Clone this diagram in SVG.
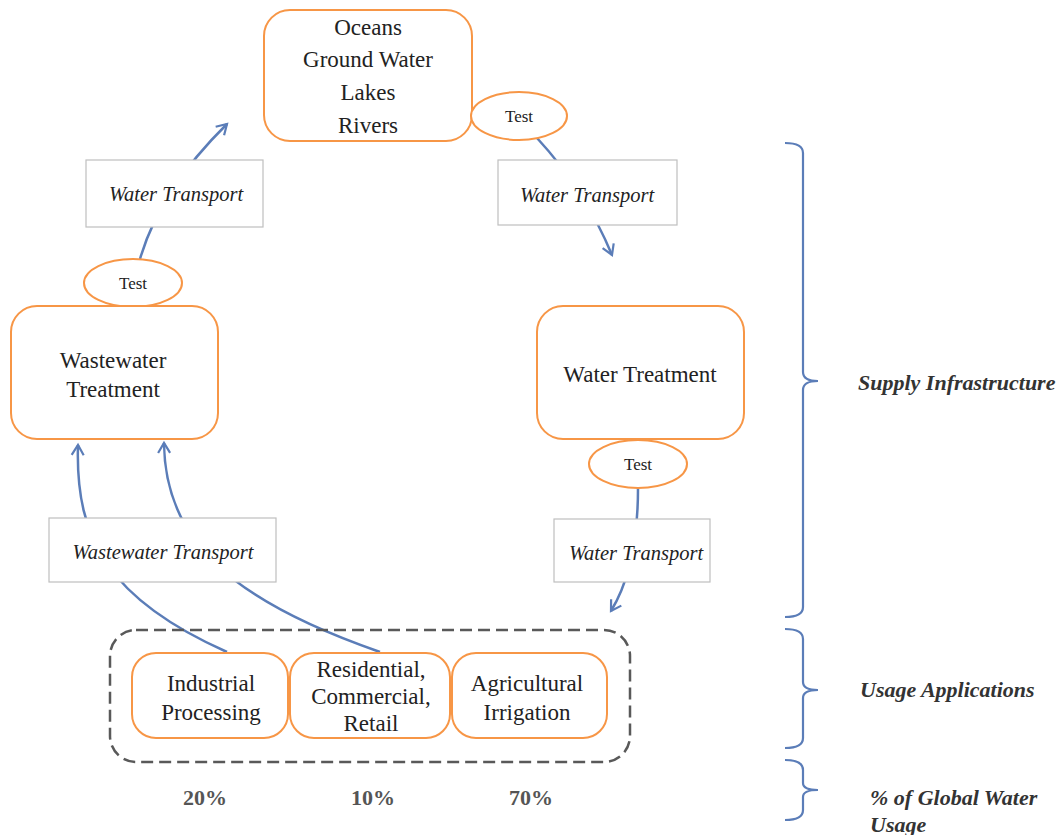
<svg xmlns="http://www.w3.org/2000/svg" width="1061" height="835" viewBox="0 0 1061 835">
<defs>
<style>
text{font-family:'Liberation Serif','DejaVu Serif',serif}
.node{fill:#fff;stroke:#F79646;stroke-width:2}
.tbox{fill:#fff;stroke:#BFBFBF;stroke-width:1.2}
.t{font-size:23px;fill:#222;text-anchor:middle}
.ts{font-size:17px;fill:#222;text-anchor:middle}
.ti{font-size:20.5px;font-style:italic;fill:#222;text-anchor:middle}
.lab{font-size:22px;font-style:italic;font-weight:bold;fill:#333}
.pct{font-size:22px;font-weight:bold;fill:#555;text-anchor:middle}
.conn{fill:none;stroke:#5B7DB8;stroke-width:2.5}
.brace{fill:none;stroke:#5B7DB8;stroke-width:2.2}
</style>
<marker id="arr" markerWidth="16" markerHeight="16" refX="0" refY="0" viewBox="-12 -8 14 16" orient="auto" markerUnits="userSpaceOnUse">
<path d="M-10,-6 L0,0 L-10,6" fill="none" stroke="#5B7DB8" stroke-width="2.2"/>
</marker>
</defs>
<rect width="1061" height="835" fill="#fff"/>

<g id="connectors">
<path class="conn" d="M537,138 Q585,190 612,255" marker-end="url(#arr)"/>
<path class="conn" d="M140,259 Q160,190 227,124" marker-end="url(#arr)"/>
<path class="conn" d="M638,488 C638,540 630,580 611,611" marker-end="url(#arr)"/>
<path class="conn" d="M227,652 C110,600 75,540 78,445" marker-end="url(#arr)"/>
<path class="conn" d="M380,652 C230,600 165,540 164,443" marker-end="url(#arr)"/>
</g>

<g id="sources">
<rect class="node" x="264" y="10" width="208" height="131" rx="26"/>
<text class="t" x="368" y="35">Oceans</text>
<text class="t" x="368" y="67">Ground Water</text>
<text class="t" x="368" y="100">Lakes</text>
<text class="t" x="368" y="133">Rivers</text>
</g>
<g id="test-top">
<ellipse class="node" cx="519" cy="116" rx="48" ry="24"/>
<text class="ts" x="519" y="122">Test</text>
</g>
<g id="transport-right-top">
<rect class="tbox" x="498" y="160" width="179" height="65"/>
<text class="ti" x="587" y="202">Water Transport</text>
</g>
<g id="transport-left-top">
<rect class="tbox" x="86" y="160" width="177" height="67"/>
<text class="ti" x="176" y="201">Water Transport</text>
</g>
<g id="test-left">
<ellipse class="node" cx="133" cy="283" rx="49" ry="24"/>
<text class="ts" x="133" y="289">Test</text>
</g>
<g id="wastewater-treatment">
<rect class="node" x="11" y="306" width="207" height="133" rx="26"/>
<text class="t" x="113" y="368">Wastewater</text>
<text class="t" x="113" y="397">Treatment</text>
</g>
<g id="water-treatment">
<rect class="node" x="537" y="306" width="207" height="133" rx="26"/>
<text class="t" x="640" y="382">Water Treatment</text>
</g>
<g id="test-right">
<ellipse class="node" cx="638" cy="464" rx="49" ry="24"/>
<text class="ts" x="638" y="470">Test</text>
</g>
<g id="transport-right-bottom">
<rect class="tbox" x="554" y="519" width="156" height="63"/>
<text class="ti" x="636" y="560">Water Transport</text>
</g>
<g id="wastewater-transport">
<rect class="tbox" x="49" y="518" width="227" height="64"/>
<text class="ti" x="163" y="559">Wastewater Transport</text>
</g>

<g id="usage-group">
<rect x="110" y="630" width="520" height="132" rx="26" fill="none" stroke="#595959" stroke-width="2.5" stroke-dasharray="12,6"/>
</g>
<g id="industrial">
<rect class="node" x="132" y="653" width="156" height="85" rx="24"/>
<text class="t" x="211" y="691">Industrial</text>
<text class="t" x="211" y="720">Processing</text>
</g>
<g id="residential">
<rect class="node" x="290" y="653" width="160" height="85" rx="24"/>
<text class="t" x="371" y="677">Residential,</text>
<text class="t" x="371" y="704">Commercial,</text>
<text class="t" x="371" y="731">Retail</text>
</g>
<g id="agricultural">
<rect class="node" x="452" y="653" width="155" height="85" rx="24"/>
<text class="t" x="527" y="691">Agricultural</text>
<text class="t" x="527" y="720">Irrigation</text>
</g>

<g id="percentages">
<text class="pct" x="205" y="805">20%</text>
<text class="pct" x="373" y="805">10%</text>
<text class="pct" x="531" y="805">70%</text>
</g>

<g id="braces">
<path class="brace" d="M785,143 Q803,143 803,153 L803,372 Q803,381 818,381 Q803,381 803,390 L803,607 Q803,617 785,617"/>
<text class="lab" x="858" y="390">Supply Infrastructure</text>
<path class="brace" d="M785,629 Q803,629 803,639 L803,682 Q803,690 818,690 Q803,690 803,698 L803,738 Q803,748 785,748"/>
<text class="lab" x="860" y="697">Usage Applications</text>
<path class="brace" d="M785,760 Q803,760 803,770 L803,783 Q803,790 818,790 Q803,790 803,797 L803,810 Q803,820 785,820"/>
<text class="lab" x="870" y="805">% of Global Water</text>
<text class="lab" x="870" y="832">Usage</text>
</g>
</svg>
